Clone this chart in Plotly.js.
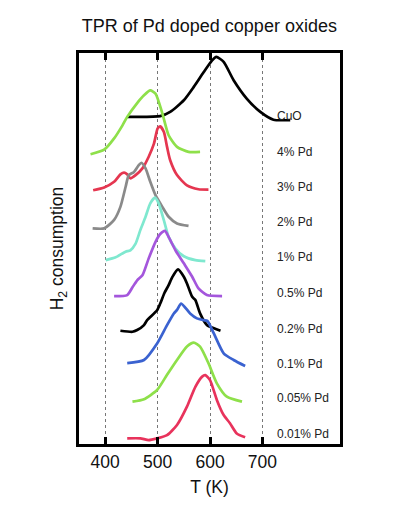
<!DOCTYPE html>
<html>
<head>
<meta charset="utf-8">
<script src="https://cdn.plot.ly/plotly-3.0.1.min.js"></script>
<style>html,body{margin:0;padding:0;background:#fff;}#chart{width:398px;height:525px;}</style>
</head>
<body>
<div id="chart"></div>
<script>
// Sample names (top-to-bottom in the figure)
const samples = ["CuO", "4% Pd", "3% Pd", "2% Pd", "1% Pd", "0.5% Pd", "0.2% Pd", "0.1% Pd", "0.05% Pd", "0.01% Pd"];
// Vertical offsets of each trace (a.u.)
const offsets = [9.26, 8.24, 7.22, 6.12, 5.21, 4.19, 3.20, 2.24, 1.20, 0.17];
// Label heights (a.u.)
const labelY = [9.29, 8.28, 7.29, 6.28, 5.29, 4.27, 3.26, 2.27, 1.29, 0.28];
const colors = ["#000000", "#8ee04a", "#e53650", "#8a8a8a", "#7fe8cf", "#a456dc", "#000000", "#3a62d0", "#8ee04a", "#e8335c"];

// Temperature (K) and H2 consumption signal (a.u.) for each sample
const T_CuO   = [442, 505, 524, 550, 569, 588, 604, 612, 626, 645, 670, 696, 721, 753];
const H_CuO   = [0.01, 0.03, 0.15, 0.48, 0.86, 1.28, 1.61, 1.71, 1.57, 1.05, 0.53, 0.15, -0.07, -0.08];

const T_4     = [372, 398, 417, 433, 442, 461, 474, 486, 496, 509, 521, 537, 559, 581];
const H_4     = [-0.03, 0.10, 0.42, 0.79, 1.03, 1.42, 1.64, 1.78, 1.69, 1.13, 0.51, 0.18, 0.04, 0.04];

const T_3     = [377, 398, 417, 429, 436, 442, 448, 458, 471, 483, 493, 500, 505, 512, 518, 524, 537, 556, 578, 597];
const H_3     = [-0.03, 0.05, 0.21, 0.42, 0.47, 0.42, 0.31, 0.40, 0.59, 0.92, 1.29, 1.72, 1.78, 1.62, 1.20, 0.82, 0.40, 0.11, 0.00, -0.01];

const T_2     = [376, 398, 417, 429, 439, 445, 455, 464, 469, 477, 486, 496, 509, 521, 537, 559];
const H_2     = [-0.01, -0.01, 0.23, 0.60, 1.17, 1.50, 1.59, 1.78, 1.85, 1.69, 1.31, 0.93, 0.60, 0.32, 0.13, 0.06];

const T_1     = [401, 420, 439, 448, 458, 467, 477, 486, 495, 502, 512, 521, 534, 550, 572, 591];
const H_1     = [0.00, 0.08, 0.24, 0.28, 0.47, 0.85, 1.23, 1.61, 1.77, 1.61, 1.13, 0.66, 0.33, 0.11, 0.00, -0.03];

const T_05    = [417, 442, 452, 461, 471, 483, 496, 505, 514, 521, 534, 550, 566, 578, 594, 623];
const H_05    = [0.00, 0.03, 0.25, 0.45, 0.59, 1.07, 1.54, 1.76, 1.85, 1.68, 1.30, 0.93, 0.55, 0.22, 0.03, 0.00];

const T_02    = [429, 452, 461, 474, 480, 499, 505, 513, 521, 528, 539, 550, 556, 566, 572, 581, 594, 600, 620];
const H_02    = [0.01, -0.02, 0.03, 0.17, 0.31, 0.59, 0.78, 1.08, 1.30, 1.53, 1.75, 1.54, 1.35, 0.97, 0.88, 0.50, 0.17, 0.12, 0.01];

const T_01    = [442, 474, 499, 518, 531, 537, 545, 562, 575, 588, 595, 607, 626, 645, 667];
const H_01    = [0.05, 0.14, 0.61, 1.13, 1.46, 1.56, 1.74, 1.46, 1.32, 1.27, 1.25, 0.90, 0.33, 0.14, -0.03];

const T_005   = [452, 474, 499, 518, 537, 556, 569, 581, 597, 613, 632, 661];
const H_005   = [0.00, 0.07, 0.33, 0.76, 1.18, 1.56, 1.67, 1.56, 1.09, 0.52, 0.14, 0.00];

const T_001   = [442, 467, 483, 499, 518, 537, 556, 572, 585, 591, 600, 613, 626, 638, 651, 667];
const H_001   = [-0.01, -0.01, -0.06, -0.01, 0.08, 0.37, 0.89, 1.45, 1.74, 1.78, 1.64, 1.08, 0.65, 0.42, 0.13, 0.02];

const Tseries = [T_CuO, T_4, T_3, T_2, T_1, T_05, T_02, T_01, T_005, T_001];
const Hseries = [H_CuO, H_4, H_3, H_2, H_1, H_05, H_02, H_01, H_005, H_001];

const xTicks = [400, 500, 600, 700];
const labelT = 724;

const FONT = "Liberation Sans, Arial, sans-serif";

const traces = samples.map((name, i) => ({
  type: "scatter",
  mode: "lines",
  name: name,
  x: Tseries[i],
  y: Hseries[i].map(v => v + offsets[i]),
  line: {color: colors[i], width: 2.7, shape: "spline", smoothing: 0.6},
  showlegend: false,
  hoverinfo: "skip"
}));

const annotations = samples.map((name, i) => ({
  x: labelT, y: labelY[i], xref: "x", yref: "y",
  text: name, showarrow: false, xanchor: "left", yanchor: "middle",
  font: {family: FONT, size: 12, color: "#222"}
}));

const layout = {
  width: 398, height: 525,
  margin: {l: 79, r: 58, t: 53, b: 81},
  paper_bgcolor: "#fff", plot_bgcolor: "#fff",
  font: {family: FONT, color: "#000", size: 12},
  title: {text: "TPR of Pd doped copper oxides", font: {family: FONT, size: 18, color: "#111"},
          x: 0.526, xanchor: "center", xref: "container", y: 0.951, yanchor: "middle", yref: "container"},
  xaxis: {
    range: [350, 848], tickvals: xTicks, ticktext: xTicks.map(String),
    ticks: "inside", ticklen: 7, tickwidth: 3, tickcolor: "#000",
    showline: true, linewidth: 3, linecolor: "#000", mirror: "ticks",
    showgrid: true, gridcolor: "#777", griddash: "dot", gridwidth: 1,
    zeroline: false, tickfont: {family: FONT, size: 17.5, color: "#111"},
    title: {text: "T (K)", font: {family: FONT, size: 17.5, color: "#111"}, standoff: 10}
  },
  yaxis: {
    range: [0, 11.08], showticklabels: false, ticks: "",
    showline: true, linewidth: 3, linecolor: "#000", mirror: true,
    showgrid: false, zeroline: false,
    title: {text: "H<sub>2</sub> consumption", font: {family: FONT, size: 17.5, color: "#111"}, standoff: 8}
  },
  annotations: annotations
};

Plotly.newPlot("chart", traces, layout, {staticPlot: true, displayModeBar: false});
</script>
</body>
</html>
